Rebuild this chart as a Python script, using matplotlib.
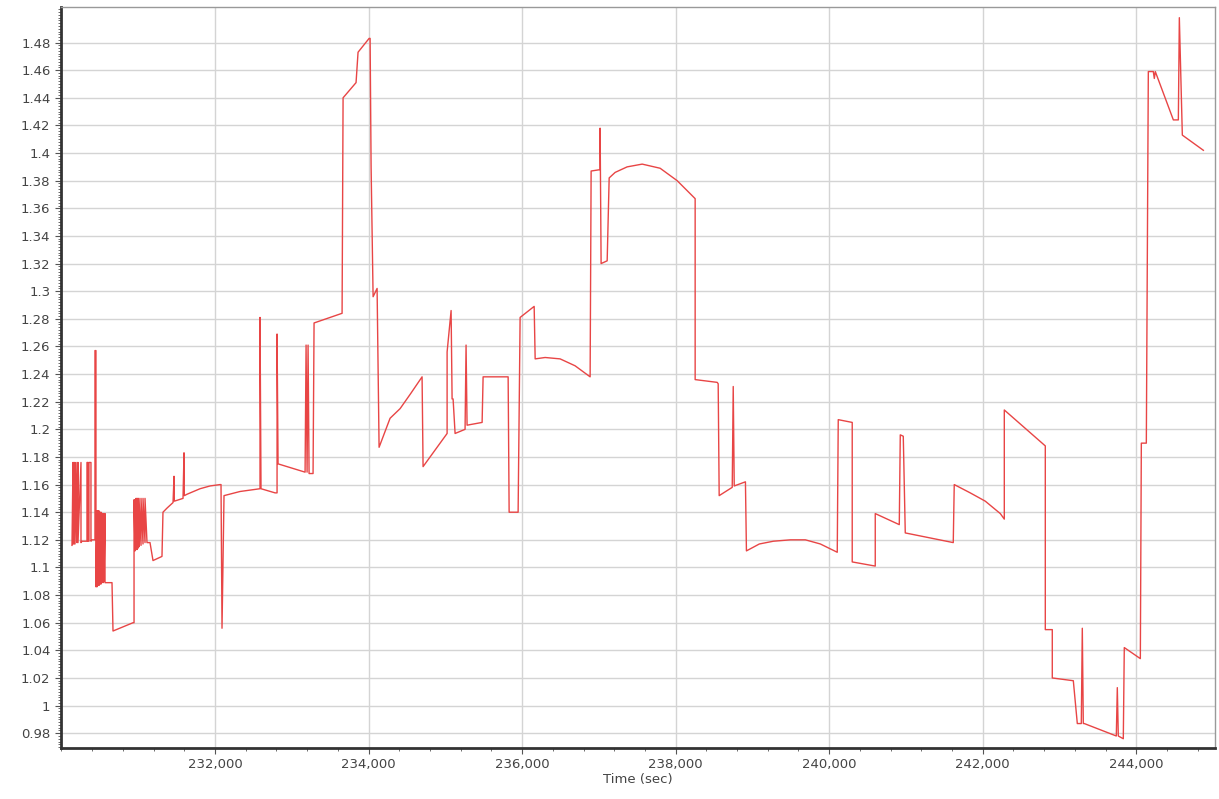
import matplotlib.pyplot as plt
import matplotlib.ticker as ticker

# time (sec) and value
time = [230137, 230150, 230150, 230163, 230163, 230176, 230176, 230202, 230202, 230215,
        230215, 230254, 230254, 230267, 230332, 230332, 230345, 230345, 230358, 230358,
        230384, 230384, 230397, 230436, 230436, 230449, 230449, 230462, 230462, 230475,
        230475, 230488, 230488, 230502, 230502, 230515, 230515, 230528, 230541, 230541,
        230554, 230554, 230567, 230567, 230580, 230593, 230593, 230658, 230671, 230932,
        230945, 230945, 230958, 230958, 230971, 230971, 230984, 230984, 230997, 230997,
        231010, 231010, 231036, 231036, 231062, 231062, 231088, 231088, 231114, 231153,
        231192, 231309, 231322, 231375, 231453, 231466, 231470, 231583, 231596, 231600,
        231635, 231805, 231935, 232065, 232078, 232091, 232117, 232326, 232586, 232586,
        232599, 232782, 232808, 232808, 232821, 233173, 233186, 233199, 233212, 233225,
        233277, 233290, 233655, 233668, 233837, 233863, 234007, 234020, 234033, 234059,
        234111, 234137, 234280, 234411, 234550, 234697, 234710, 235023, 235023, 235075,
        235088, 235101, 235127, 235257, 235270, 235283, 235479, 235492, 235818, 235831,
        235948, 235974, 236157, 236170, 236300, 236495, 236690, 236886, 236899, 237016,
        237016, 237029, 237108, 237134, 237212, 237368, 237564, 237798, 238020, 238254,
        238254, 238541, 238554, 238567, 238737, 238750, 238763, 238909, 238922, 239090,
        239273, 239495, 239690, 239885, 240105, 240118, 240300, 240300, 240600, 240600,
        240913, 240926, 240965, 240991, 241616, 241629, 241837, 242033, 242229, 242281,
        242281, 242815, 242815, 242906, 242906, 243180, 243232, 243284, 243297, 243310,
        243323, 243740, 243753, 243766, 243831, 243844, 244053, 244066, 244131, 244157,
        244222, 244235, 244248, 244483, 244548, 244561, 244600, 244874]
value = [1.116, 1.176, 1.117, 1.176, 1.117, 1.176, 1.117, 1.176, 1.118, 1.176,
         1.118, 1.176, 1.118, 1.119, 1.119, 1.176, 1.176, 1.119, 1.119, 1.176,
         1.176, 1.119, 1.120, 1.120, 1.257, 1.257, 1.086, 1.141, 1.086, 1.141,
         1.087, 1.141, 1.087, 1.140, 1.088, 1.140, 1.088, 1.139, 1.139, 1.089,
         1.139, 1.090, 1.139, 1.089, 1.089, 1.089, 1.089, 1.089, 1.054, 1.060,
         1.060, 1.149, 1.112, 1.149, 1.113, 1.150, 1.113, 1.150, 1.114, 1.150,
         1.115, 1.150, 1.116, 1.150, 1.117, 1.150, 1.118, 1.150, 1.118, 1.118,
         1.105, 1.108, 1.140, 1.143, 1.147, 1.166, 1.148, 1.150, 1.183, 1.152,
         1.153, 1.157, 1.159, 1.160, 1.160, 1.056, 1.152, 1.155, 1.157, 1.281,
         1.157, 1.154, 1.154, 1.269, 1.175, 1.169, 1.261, 1.169, 1.261, 1.168,
         1.168, 1.277, 1.284, 1.440, 1.451, 1.473, 1.483, 1.483, 1.390, 1.296,
         1.302, 1.187, 1.208, 1.215, 1.226, 1.238, 1.173, 1.197, 1.256, 1.286,
         1.222, 1.222, 1.197, 1.200, 1.261, 1.203, 1.205, 1.238, 1.238, 1.140,
         1.140, 1.281, 1.289, 1.251, 1.252, 1.251, 1.246, 1.238, 1.387, 1.388,
         1.418, 1.320, 1.322, 1.382, 1.386, 1.390, 1.392, 1.389, 1.380, 1.367,
         1.236, 1.234, 1.233, 1.152, 1.158, 1.231, 1.159, 1.162, 1.112, 1.117,
         1.119, 1.120, 1.120, 1.117, 1.111, 1.207, 1.205, 1.104, 1.101, 1.139,
         1.131, 1.196, 1.195, 1.125, 1.118, 1.160, 1.154, 1.148, 1.139, 1.135,
         1.214, 1.188, 1.055, 1.055, 1.020, 1.018, 0.987, 0.987, 1.056, 0.987,
         0.987, 0.978, 1.013, 0.978, 0.976, 1.042, 1.034, 1.190, 1.190, 1.459,
         1.459, 1.454, 1.459, 1.424, 1.424, 1.498, 1.413, 1.402]

x_ticks = [232000, 234000, 236000, 238000, 240000, 242000, 244000]
y_ticks = [0.98, 1.0, 1.02, 1.04, 1.06, 1.08, 1.1, 1.12, 1.14, 1.16, 1.18, 1.2,
           1.22, 1.24, 1.26, 1.28, 1.3, 1.32, 1.34, 1.36, 1.38, 1.4, 1.42, 1.44,
           1.46, 1.48]

fig = plt.figure(figsize=(12.19, 7.99), dpi=100)
ax = fig.add_axes([0.050, 0.064, 0.947, 0.927])

ax.plot(time, value, color='#e84545', linewidth=1.0)

ax.set_xlim(229993, 245030)
ax.set_ylim(0.9694, 1.5056)

ax.set_xticks(x_ticks)
ax.xaxis.set_major_formatter(ticker.FuncFormatter(lambda v, p: f"{int(v):,}"))
ax.xaxis.set_minor_locator(ticker.MultipleLocator(400))
ax.set_yticks(y_ticks)
ax.yaxis.set_major_formatter(ticker.FuncFormatter(lambda v, p: f"{v:g}"))
ax.yaxis.set_minor_locator(ticker.MultipleLocator(0.002))

ax.grid(True, which='major', color='#d4d4d4', linewidth=1.0)
ax.set_axisbelow(True)

for side in ['top', 'right']:
    ax.spines[side].set_color('#999999')
    ax.spines[side].set_linewidth(1.0)
for side in ['left', 'bottom']:
    ax.spines[side].set_color('#333333')
    ax.spines[side].set_linewidth(2.0)

ax.tick_params(axis='both', which='major', labelsize=9.5, labelcolor='#444444',
               color='#555555', length=4, direction='out')
ax.tick_params(axis='both', which='minor', color='#555555', length=2, direction='out')

ax.set_xlabel("Time (sec)", fontsize=9.5, color='#444444', labelpad=1)

fig.savefig("out.png", dpi=100)
